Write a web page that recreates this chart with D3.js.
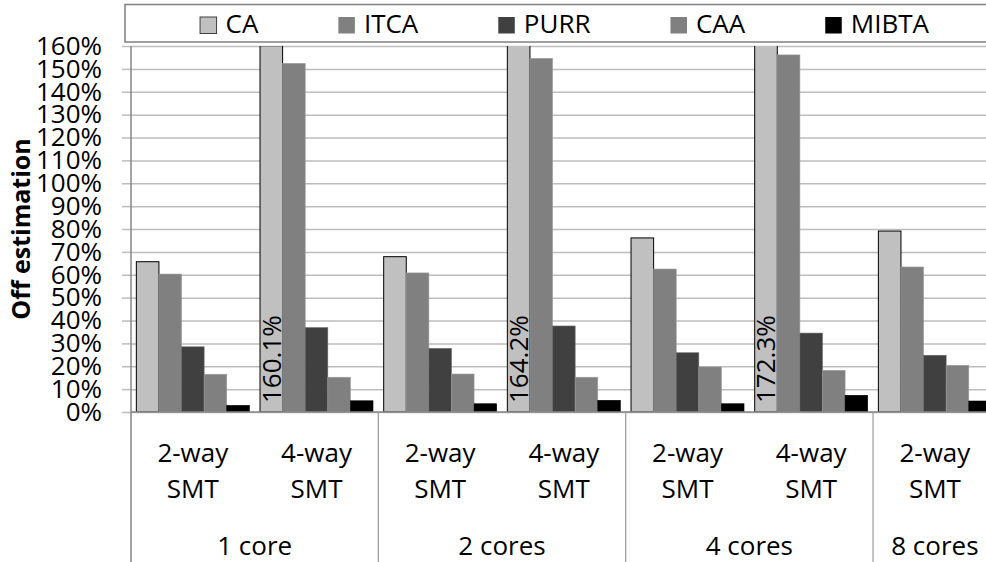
<!DOCTYPE html>
<html>
<head>
<meta charset="utf-8">
<script src="https://cdn.jsdelivr.net/npm/d3@7"></script>
<style>
  html, body { margin: 0; padding: 0; background: #fff; }
  svg { display: block; }
  text { font-family: "Open Sans", "Liberation Sans", sans-serif; fill: #000; }
</style>
</head>
<body>
<svg id="chart" width="986" height="562"></svg>
<script>
// ---- data ----
const subLabels = ["2-way", "4-way", "2-way", "4-way", "2-way", "4-way", "2-way"];
const subLabels2 = ["SMT", "SMT", "SMT", "SMT", "SMT", "SMT", "SMT"];
const groupNames = ["1 core", "2 cores", "4 cores", "8 cores"];
const groupSizes = [2, 2, 2, 1];
const seriesNames = ["CA", "ITCA", "PURR", "CAA", "MIBTA"];
const CA    = [65.7, 160.1, 67.9, 164.2, 76.1, 172.3, 79.1];
const ITCA  = [60.3, 152.4, 60.8, 154.6, 62.5, 156.1, 63.4];
const PURR  = [28.5, 36.9, 27.8, 37.6, 25.9, 34.5, 24.8];
const CAA   = [16.5, 15.2, 16.6, 15.2, 19.7, 18.2, 20.4];
const MIBTA = [2.9, 4.9, 3.6, 5.1, 3.6, 7.3, 4.8];
const yTicks = [0, 10, 20, 30, 40, 50, 60, 70, 80, 90, 100, 110, 120, 130, 140, 150, 160];
const yTitle = "Off estimation";

const seriesValues = [CA, ITCA, PURR, CAA, MIBTA];
const seriesColors = ["#c0c0c0", "#808080", "#404040", "#808080", "#000000"];
const seriesStroke = ["#000000", "#9a9a9a", "#6a6a6a", "#9a9a9a", "#000000"];

(function () {
// ---- layout ----
const svg = d3.select("#chart");
const pLeft = 131, pRight = 996.7, pTop = 46, pBottom = 412, axisBottom = 562;
const idx = d3.range(subLabels.length);

const x0 = d3.scaleBand().domain(idx).range([pLeft, pRight])
  .paddingInner(0.0863).paddingOuter(0.0863 / 2);
const x1 = d3.scaleBand().domain(seriesNames).range([0, x0.bandwidth()]).padding(0);
const y = d3.scaleLinear().domain([0, 160]).range([pBottom, pTop]);

// clip
svg.append("defs").append("clipPath").attr("id", "plotclip")
  .append("rect").attr("x", pLeft).attr("y", pTop).attr("width", pRight - pLeft).attr("height", pBottom - pTop);

// gridlines
svg.append("g")
  .attr("transform", `translate(${pLeft},0)`)
  .call(d3.axisLeft(y).tickValues(yTicks).tickSize(-(pRight - pLeft)).tickFormat(""))
  .call(g => g.select(".domain").remove())
  .call(g => g.selectAll(".tick line").attr("stroke", "#bdbdbd").attr("stroke-width", 1.5));

// y axis with labels
svg.append("g")
  .attr("transform", `translate(${pLeft},0)`)
  .call(d3.axisLeft(y).tickValues(yTicks).tickSize(9).tickPadding(20).tickFormat(d => d + "%"))
  .call(g => g.select(".domain").remove())
  .call(g => g.selectAll(".tick line").attr("stroke", "#bdbdbd").attr("stroke-width", 1.5))
  .call(g => g.selectAll(".tick text")
    .style("font-family", '"Open Sans", "Liberation Sans", sans-serif')
    .attr("font-size", 26).attr("fill", "#000"));

// bars
const barsG = svg.append("g").attr("clip-path", "url(#plotclip)");
seriesNames.forEach((s, si) => {
  barsG.append("g").selectAll("rect")
    .data(idx)
    .join("rect")
    .attr("x", i => x0(i) + x1(s))
    .attr("y", i => y(seriesValues[si][i]))
    .attr("width", x1.bandwidth())
    .attr("height", i => y(0) - y(seriesValues[si][i]))
    .attr("fill", seriesColors[si])
    .attr("stroke", seriesStroke[si])
    .attr("stroke-width", si === 0 ? 1 : 0.6);
});

// value labels for clipped bars
idx.filter(i => CA[i] > 160).forEach(i => {
  const cx = x0(i) + x1("CA") + x1.bandwidth() / 2;
  svg.append("text")
    .attr("transform", `translate(${cx},${pBottom - 9}) rotate(-90)`)
    .attr("dy", "0.36em")
    .attr("font-size", 26)
    .attr("text-anchor", "start")
    .text(CA[i].toFixed(1) + "%");
});

// axis lines
svg.append("line").attr("x1", pLeft).attr("x2", pRight).attr("y1", pBottom).attr("y2", pBottom)
  .attr("stroke", "#868686").attr("stroke-width", 1.5);
svg.append("line").attr("x1", pLeft).attr("x2", pLeft).attr("y1", pTop).attr("y2", axisBottom)
  .attr("stroke", "#868686").attr("stroke-width", 1.5);

// category group separators and labels
let start = 0;
groupNames.forEach((gname, gi) => {
  const n = groupSizes[gi];
  const xa = x0(start) - x0.step() * x0.paddingInner() / 2;
  const xb = xa + n * x0.step();
  if (gi > 0) {
    svg.append("line").attr("x1", xa).attr("x2", xa).attr("y1", pBottom).attr("y2", axisBottom)
      .attr("stroke", "#9a9a9a").attr("stroke-width", 1.2);
  }
  svg.append("text")
    .attr("x", (xa + xb) / 2).attr("y", 555)
    .attr("text-anchor", "middle").attr("font-size", 26)
    .text(gname);
  start += n;
});

// sub-category labels
idx.forEach(i => {
  const cx = x0(i) + x0.bandwidth() / 2;
  svg.append("text").attr("x", cx).attr("y", 462)
    .attr("text-anchor", "middle").attr("font-size", 26).text(subLabels[i]);
  svg.append("text").attr("x", cx).attr("y", 498)
    .attr("text-anchor", "middle").attr("font-size", 26).text(subLabels2[i]);
});

// y title
svg.append("text")
  .attr("transform", `translate(30,229) rotate(-90)`)
  .attr("text-anchor", "middle")
  .attr("font-size", 25).attr("font-weight", "bold")
  .text(yTitle);

// legend
svg.append("rect").attr("x", 125).attr("y", 4.5).attr("width", 900).attr("height", 37.5)
  .attr("fill", "#fff").attr("stroke", "#808080").attr("stroke-width", 1.5);
const legG = svg.append("g");
const sw = 16.5, gapText = 9, gapItem = 80;
const items = seriesNames.map((s, si) => {
  const g = legG.append("g");
  g.append("rect").attr("x", 0).attr("y", 17).attr("width", sw).attr("height", sw)
    .attr("fill", seriesColors[si]).attr("stroke", si === 0 ? "#404040" : "none").attr("stroke-width", 1);
  const t = g.append("text").attr("x", sw + gapText).attr("y", 33).attr("font-size", 26).text(s);
  return { g, w: sw + gapText + t.node().getComputedTextLength() };
});
const total = d3.sum(items, d => d.w) + gapItem * (items.length - 1);
let lx = 564.5 - total / 2;
items.forEach(it => {
  it.g.attr("transform", `translate(${lx},0)`);
  lx += it.w + gapItem;
});
})();
</script>
</body>
</html>
